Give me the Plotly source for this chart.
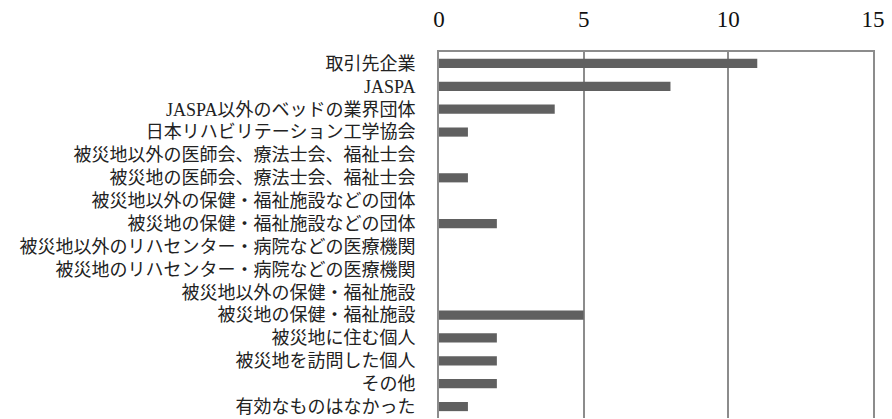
import plotly.graph_objects as go

# Survey answers (categories listed top to bottom) and their counts
categories = [
    "取引先企業",
    "JASPA",
    "JASPA以外のベッドの業界団体",
    "日本リハビリテーション工学協会",
    "被災地以外の医師会、療法士会、福祉士会",
    "被災地の医師会、療法士会、福祉士会",
    "被災地以外の保健・福祉施設などの団体",
    "被災地の保健・福祉施設などの団体",
    "被災地以外のリハセンター・病院などの医療機関",
    "被災地のリハセンター・病院などの医療機関",
    "被災地以外の保健・福祉施設",
    "被災地の保健・福祉施設",
    "被災地に住む個人",
    "被災地を訪問した個人",
    "その他",
    "有効なものはなかった",
]
counts = [11, 8, 4, 1, 0, 1, 0, 2, 0, 0, 0, 5, 2, 2, 2, 1]
x_ticks = [0, 5, 10, 15]

FONT = "Liberation Serif, Noto Sans CJK JP, serif"
GRID = "#8c8c8c"

fig = go.Figure(
    go.Bar(
        x=counts,
        y=categories,
        orientation="h",
        marker=dict(color="#606060", line=dict(width=0)),
        hoverinfo="x+y",
    )
)

fig.update_layout(
    width=892,
    height=419,
    margin=dict(l=439, r=19, t=52, b=1),
    paper_bgcolor="white",
    plot_bgcolor="white",
    bargap=0.6,
    showlegend=False,
    font=dict(family=FONT, color="#222222"),
)

fig.update_xaxes(
    side="top",
    range=[0, 15],
    tickvals=x_ticks,
    ticktext=[str(v) for v in x_ticks],
    tickfont=dict(family=FONT, size=23, color="#111111"),
    ticks="",
    ticklabelstandoff=14,
    showgrid=True,
    gridcolor=GRID,
    gridwidth=2,
    zeroline=False,
    showline=True,
    linecolor=GRID,
    linewidth=2,
    mirror=False,
    fixedrange=True,
)

fig.update_yaxes(
    autorange="reversed",
    tickfont=dict(family=FONT, size=18, color="#222222"),
    ticks="",
    ticklabelstandoff=18,
    showgrid=False,
    showline=True,
    linecolor=GRID,
    linewidth=2,
    mirror=True,
    fixedrange=True,
)

fig.write_html("out.html")
